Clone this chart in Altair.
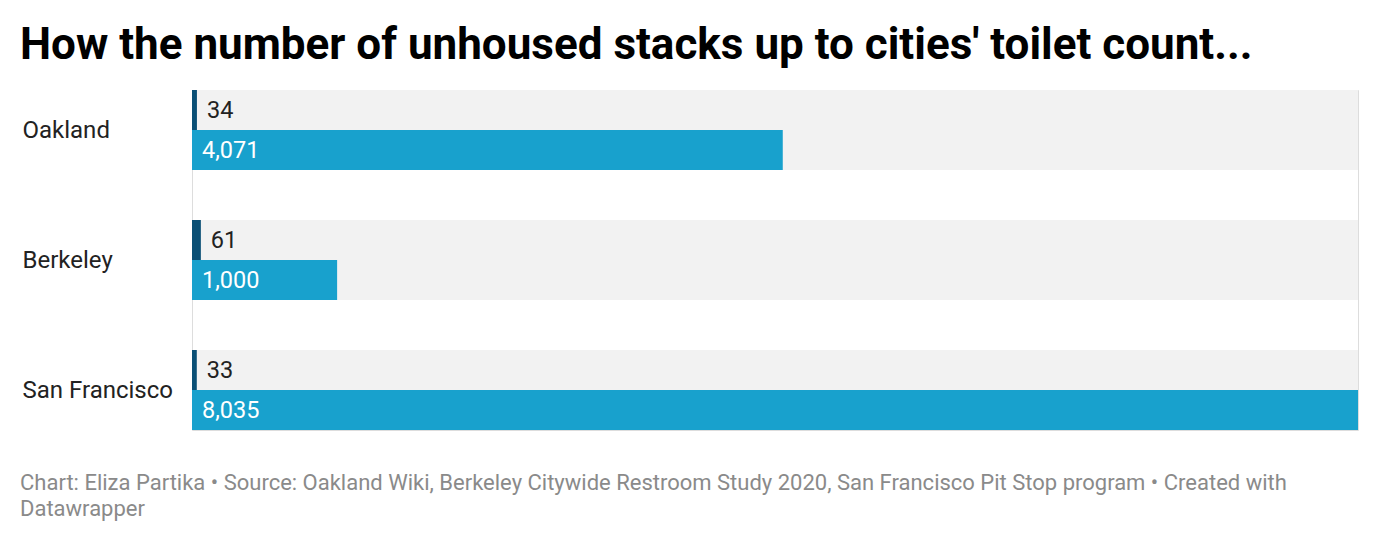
import altair as alt
import pandas as pd

cities = ["Oakland", "Berkeley", "San Francisco"]
toilets = [34, 61, 33]
unhoused = [4071, 1000, 8035]
series = ["toilets", "unhoused"]
title_text = "How the number of unhoused stacks up to cities' toilet count..."
footer_lines = [
    "Chart: Eliza Partika \u2022 Source: Oakland Wiki, Berkeley Citywide Restroom Study 2020, San Francisco Pit Stop program \u2022 Created with",
    "Datawrapper",
]

rows = []
for c, t, u in zip(cities, toilets, unhoused):
    rows.append({"city": c, "series": "toilets", "value": t, "label": f"{t:,}"})
    rows.append({"city": c, "series": "unhoused", "value": u, "label": f"{u:,}"})
df = pd.DataFrame(rows)
bg = pd.DataFrame({"city": cities})

W, H = 1166, 340
FONT = "Roboto"
xmax = max(unhoused)

yenc = alt.Y("city:N", sort=cities,
             scale=alt.Scale(paddingInner=50/130, paddingOuter=0),
             axis=alt.Axis(title=None, ticks=False, domain=False, grid=False,
                           labelAlign="left", labelPadding=170, labelFont=FONT,
                           labelFontSize=24, labelColor="#222222", labelBaseline="middle",
                           labelOffset=1))
yoff = alt.YOffset("series:N", sort=series, scale=alt.Scale(paddingInner=0, paddingOuter=0))
xscale = alt.Scale(domain=[0, xmax], nice=False)

background = alt.Chart(bg).mark_bar(color="#f2f2f2").encode(
    y=yenc, x=alt.value(0), x2=alt.value(W)
)

bars = alt.Chart(df).mark_bar().encode(
    y=yenc, yOffset=yoff,
    x=alt.X("value:Q", scale=xscale, axis=None),
    color=alt.Color("series:N", sort=series,
                    scale=alt.Scale(domain=series, range=["#0a4f75", "#18a1cd"]),
                    legend=None),
)

tlabels = alt.Chart(df).transform_filter(alt.datum.series == "toilets").mark_text(
    align="left", baseline="middle", dx=10, dy=1, font=FONT, fontSize=23.5, color="#222222"
).encode(y=yenc, yOffset=yoff, x=alt.X("value:Q", scale=xscale, axis=None), text="label:N")

ulabels = alt.Chart(df).transform_filter(alt.datum.series == "unhoused").mark_text(
    align="left", baseline="middle", dx=10, dy=1, font=FONT, fontSize=23.5, color="#ffffff"
).encode(y=yenc, yOffset=yoff, x=alt.X("zero:Q", scale=xscale, axis=None), text="label:N"
).transform_calculate(zero="0")

foot1 = alt.Chart(pd.DataFrame({"line": [footer_lines[0]]})).mark_text(
    align="left", baseline="alphabetic", font=FONT, fontSize=22, color="#8a8a8a"
).encode(x=alt.value(-172), y=alt.value(H + 60), text="line:N")

foot2 = alt.Chart(pd.DataFrame({"line": [footer_lines[1]]})).mark_text(
    align="left", baseline="alphabetic", font=FONT, fontSize=22, color="#8a8a8a"
).encode(x=alt.value(-172), y=alt.value(H + 86), text="line:N")

chart = alt.layer(background, bars, tlabels, ulabels, foot1, foot2).properties(
    width=W, height=H,
    autosize=alt.AutoSizeParams(type="none"),
    padding={"left": 184, "top": 82, "right": 14, "bottom": 104},
    title=alt.TitleParams(title_text, anchor="start", frame="group", dx=-172,
                          font=FONT, fontSize=44, fontWeight="bold", color="#000000",
                          offset=22),
).configure_view(stroke="transparent", strokeWidth=0).configure_axis(
    grid=False, domain=False
).configure(background="#ffffff")

chart.save("out.html", embed_options={"renderer": "svg", "actions": False})
